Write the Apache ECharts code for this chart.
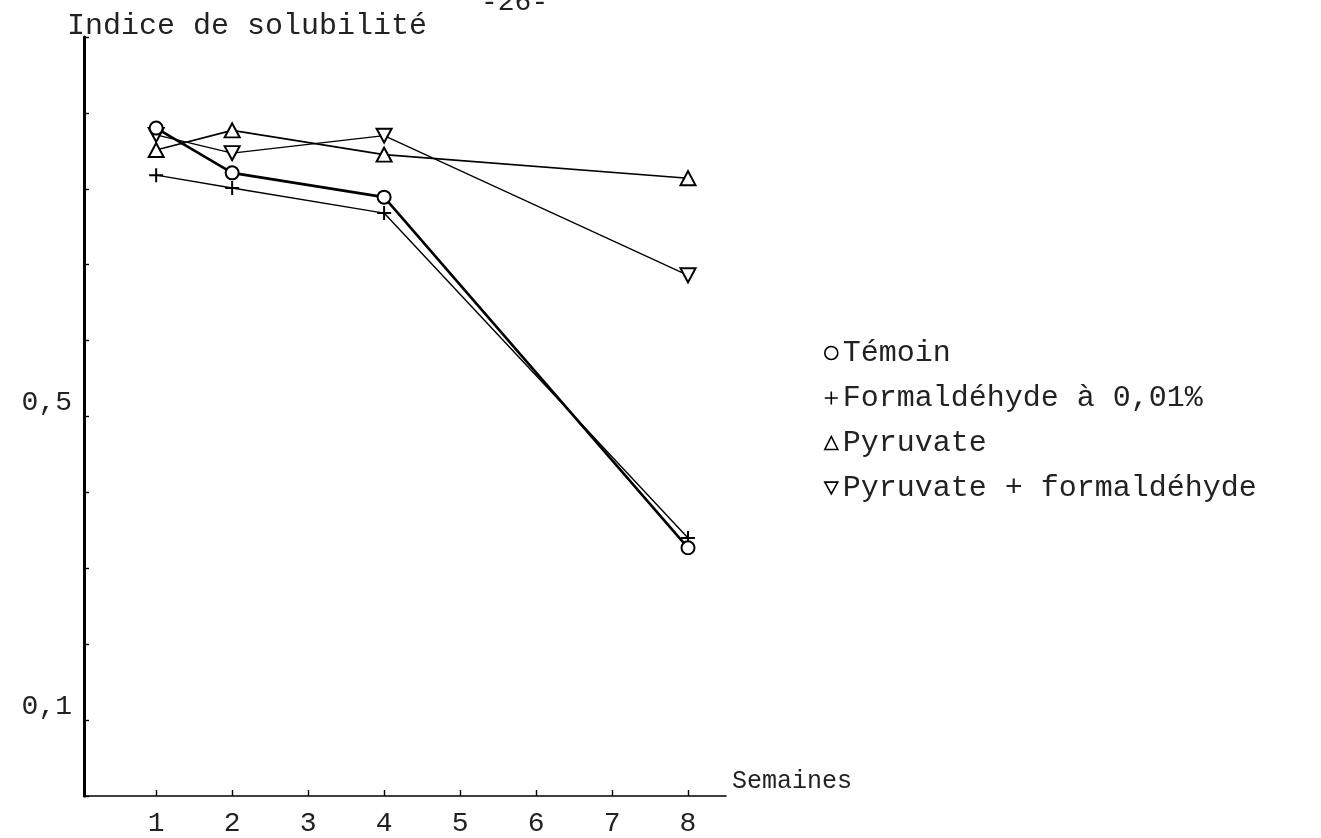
<!DOCTYPE html>
<html>
<head>
<meta charset="utf-8">
<script src="https://cdn.jsdelivr.net/npm/echarts@6/dist/echarts.min.js"></script>
<style>
html,body{margin:0;padding:0;background:#fff;}
#chart{width:1321px;height:838px;}
</style>
</head>
<body>
<div id="chart"></div>
<script>
// ---- data ----
const weeks = [1, 2, 4, 8];
const seriesNames = ['Témoin', 'Formaldéhyde à 0,01%', 'Pyruvate', 'Pyruvate + formaldéhyde'];
const temoin = [0.880, 0.821, 0.789, 0.327];
const formaldehyde = [0.818, 0.801, 0.768, 0.340];
const pyruvate = [0.851, 0.877, 0.845, 0.814];
const pyruvateFormaldehyde = [0.871, 0.847, 0.870, 0.686];
const xTicks = [1, 2, 3, 4, 5, 6, 7, 8];
const yLabelValues = [0.1, 0.5];
const yLabelTexts = ['0,1', '0,5'];
const yAxisTitle = 'Indice de solubilité';
const xAxisTitle = 'Semaines';
const pageNumber = '-26-';

const FONT = '"Liberation Mono", "DejaVu Sans Mono", monospace';
const INK = '#222';

const PLUS = 'path://M5,0 L5,10 M0,5 L10,5';
const DOWN_TRI = 'path://M0,0 L10,0 L5,9 Z';

function pairs(vals) { return weeks.map((w, i) => [w, vals[i]]); }

const markerStyle = { color: '#fff', borderColor: '#000', borderWidth: 2 };

const chart = echarts.init(document.getElementById('chart'), null, { renderer: 'canvas' });
chart.setOption({
  backgroundColor: '#fff',
  animation: false,
  title: [
    { text: yAxisTitle, left: 62, top: 6,
      textStyle: { fontFamily: FONT, fontSize: 30, fontWeight: 'normal', color: INK } },
    { text: pageNumber, left: 476, top: -16,
      textStyle: { fontFamily: FONT, fontSize: 28, fontWeight: 'normal', color: INK } }
  ],
  grid: { left: 84, right: 595, top: 37, bottom: 42, containLabel: false },
  legend: {
    orient: 'vertical', left: 819, top: 333,
    itemWidth: 13, itemHeight: 13, itemGap: 15, itemTextGap: 20,
    textStyle: { fontFamily: FONT, fontSize: 30, color: INK, lineHeight: 30 },
    itemStyle: { color: '#fff', borderColor: '#000', borderWidth: 1.6 },
    data: [
      { name: seriesNames[0], icon: 'circle' },
      { name: seriesNames[1], icon: PLUS },
      { name: seriesNames[2], icon: 'triangle' },
      { name: seriesNames[3], icon: DOWN_TRI }
    ]
  },
  xAxis: {
    type: 'value', min: 0.05, max: 8.5,
    name: xAxisTitle, nameLocation: 'end', nameGap: 6,
    nameTextStyle: { fontFamily: FONT, fontSize: 25, color: INK, align: 'left', verticalAlign: 'bottom', padding: [0, 0, 2, 0] },
    axisLine: { show: true, onZero: false, lineStyle: { color: '#000', width: 1.6 } },
    axisTick: { show: true, inside: true, length: 6, customValues: xTicks, lineStyle: { color: '#000', width: 1.4 } },
    axisLabel: { show: true, customValues: xTicks, margin: 14,
      fontFamily: FONT, fontSize: 28, color: INK, formatter: v => String(v) },
    splitLine: { show: false }
  },
  yAxis: {
    type: 'value', min: 0, max: 1, interval: 0.1,
    axisLine: { show: true, onZero: false, lineStyle: { color: '#000', width: 3 } },
    axisTick: { show: true, inside: true, length: 5, lineStyle: { color: '#000', width: 1.4 } },
    axisLabel: { show: true, customValues: yLabelValues, margin: 12, verticalAlign: 'bottom', lineHeight: 28,
      fontFamily: FONT, fontSize: 28, color: INK,
      formatter: v => { const i = yLabelValues.findIndex(t => Math.abs(t - v) < 1e-9); return i >= 0 ? yLabelTexts[i] : ''; } },
    splitLine: { show: false }
  },
  series: [
    { name: seriesNames[0], type: 'line', data: pairs(temoin), symbol: 'circle', symbolSize: 13,
      lineStyle: { color: '#000', width: 2.6 }, itemStyle: markerStyle, z: 4 },
    { name: seriesNames[1], type: 'line', data: pairs(formaldehyde), symbol: PLUS, symbolSize: 14, symbolKeepAspect: true,
      lineStyle: { color: '#000', width: 1.4 }, itemStyle: markerStyle, z: 3 },
    { name: seriesNames[2], type: 'line', data: pairs(pyruvate), symbol: 'triangle', symbolSize: [15, 14],
      lineStyle: { color: '#000', width: 1.6 }, itemStyle: markerStyle, z: 3 },
    { name: seriesNames[3], type: 'line', data: pairs(pyruvateFormaldehyde), symbol: DOWN_TRI, symbolSize: [15, 14],
      lineStyle: { color: '#000', width: 1.3 }, itemStyle: markerStyle, z: 3 }
  ]
});
</script>
</body>
</html>
